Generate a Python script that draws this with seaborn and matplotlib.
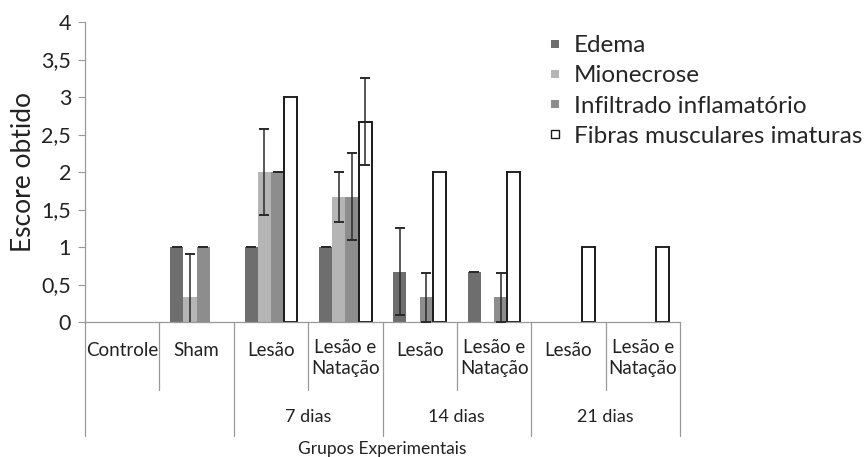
import matplotlib
matplotlib.use("Agg")
import matplotlib.pyplot as plt
import matplotlib.transforms as mtransforms
from matplotlib.lines import Line2D
import seaborn as sns
import pandas as pd
import numpy as np

# Group labels (first row) and period labels (second row)
grupos = ["Controle", "Sham", "Lesão", "Lesão e\nNatação", "Lesão",
          "Lesão e\nNatação", "Lesão", "Lesão e\nNatação"]
periodos = ["7 dias", "14 dias", "21 dias"]
periodo_pos = [2.5, 4.5, 6.5]

series = ["Edema", "Mionecrose", "Infiltrado inflamatório",
          "Fibras musculares imaturas"]

edema = [0, 1, 1, 1, 0.67, 0.67, 0, 0]
edema_err = [0, 0, 0, 0, 0.577, 0, 0, 0]
mionecrose = [0, 0.33, 2, 1.67, 0, 0, 0, 0]
mionecrose_err = [0, 0.577, 0.577, 0.33, 0, 0, 0, 0]
infiltrado = [0, 1, 2, 1.67, 0.33, 0.33, 0, 0]
infiltrado_err = [0, 0, 0, 0.577, 0.33, 0.33, 0, 0]
fibras = [0, 0, 3, 2.67, 2, 2, 1, 1]
fibras_err = [0, 0, 0, 0.577, 0, 0, 0, 0]

valores = [edema, mionecrose, infiltrado, fibras]
erros = [edema_err, mionecrose_err, infiltrado_err, fibras_err]

yticks = [0, 0.5, 1, 1.5, 2, 2.5, 3, 3.5, 4]
ytick_labels = ["0", "0,5", "1", "1,5", "2", "2,5", "3", "3,5", "4"]

cores = ["#6e6e6e", "#b5b5b5", "#8d8d8d", "#ffffff"]

# Long-form table; group ids keep repeated labels distinct
ids = [f"g{i}" for i in range(len(grupos))]
df = pd.DataFrame({
    "grupo": np.tile(ids, len(series)),
    "serie": np.repeat(series, len(ids)),
    "valor": np.concatenate(valores),
})

sns.set_style("white")
plt.rcParams["font.family"] = ["Lato", "DejaVu Sans"]

fig = plt.figure(figsize=(8.66, 4.57), dpi=100)
ax = fig.add_axes([85 / 866, 1 - 322 / 457, (680 - 85) / 866, 300 / 457])

sns.barplot(data=df, x="grupo", y="valor", hue="serie", order=ids,
            hue_order=series, palette=cores, errorbar=None, width=0.71,
            ax=ax, legend=False, saturation=1)
barras = list(ax.containers)

# Outline only the white series, and only where the bar has height
for cont, s in zip(barras, series):
    for bar in cont:
        if s == series[-1] and bar.get_height() > 0:
            bar.set_edgecolor("#1a1a1a")
            bar.set_linewidth(1.4)
        else:
            bar.set_edgecolor("none")
            bar.set_linewidth(0)

# Error bars from the bar positions
for cont, vals, errs in zip(barras, valores, erros):
    for bar, v, e in zip(cont, vals, errs):
        if v <= 0:
            continue
        xc = bar.get_x() + bar.get_width() / 2
        ax.errorbar(xc, v, yerr=e, fmt="none", ecolor="#2a2a2a",
                    elinewidth=1.1, capsize=3.4, capthick=1.4, zorder=5)

ax.set_ylim(0, 4)
ax.set_xlim(-0.5, 7.5)
ax.set_yticks(yticks)
ax.set_yticklabels(ytick_labels, fontsize=15.5, color="#222222")
ax.tick_params(axis="y", length=5, width=0.8, color="#999999", pad=5,
               left=True)
ax.set_xticks([])
ax.set_xlabel("")
ax.set_ylabel("Escore obtido", fontsize=19, color="#222222", labelpad=4)

for side in ["top", "right"]:
    ax.spines[side].set_visible(False)
for side in ["left", "bottom"]:
    ax.spines[side].set_color("#999999")
    ax.spines[side].set_linewidth(0.9)

trans = mtransforms.blended_transform_factory(ax.transData, ax.transAxes)

def ay(px):
    """Pixel row below the figure top -> axes fraction."""
    return (322 - px) / 300

# Category table below the axis
for x in [0.5, 2.5, 4.5, 6.5]:
    ax.plot([x, x], [0, ay(390)], transform=trans, color="#999999", lw=0.9,
            clip_on=False)
for x in [-0.5, 1.5, 3.5, 5.5, 7.5]:
    ax.plot([x, x], [0, ay(436)], transform=trans, color="#999999", lw=0.9,
            clip_on=False)

for i, g in enumerate(grupos):
    centro = 358 if "\n" in g else 350
    ax.text(i, ay(centro), g, transform=trans, ha="center", va="center",
            fontsize=13.5, color="#222222", linespacing=1.3)

for x, p in zip(periodo_pos, periodos):
    ax.text(x, ay(417), p, transform=trans, ha="center", va="center",
            fontsize=13, color="#222222")

ax.text(3.5, ay(449), "Grupos Experimentais", transform=trans,
        ha="center", va="center", fontsize=12.5, color="#222222")

# Legend with small square keys
handles = [Line2D([], [], marker="s", linestyle="none", markersize=5.8,
                  markerfacecolor=c,
                  markeredgecolor="#1a1a1a" if c == "#ffffff" else c,
                  markeredgewidth=1.0 if c == "#ffffff" else 0)
           for c in cores]
leg = fig.legend(handles, series, loc="upper left",
                 bbox_to_anchor=(548 / 866, 1 - 35 / 457), frameon=False,
                 fontsize=17.5, handlelength=0.6, handletextpad=0.45,
                 labelspacing=0.38, borderpad=0, borderaxespad=0)

fig.savefig("out.png", dpi=100)
